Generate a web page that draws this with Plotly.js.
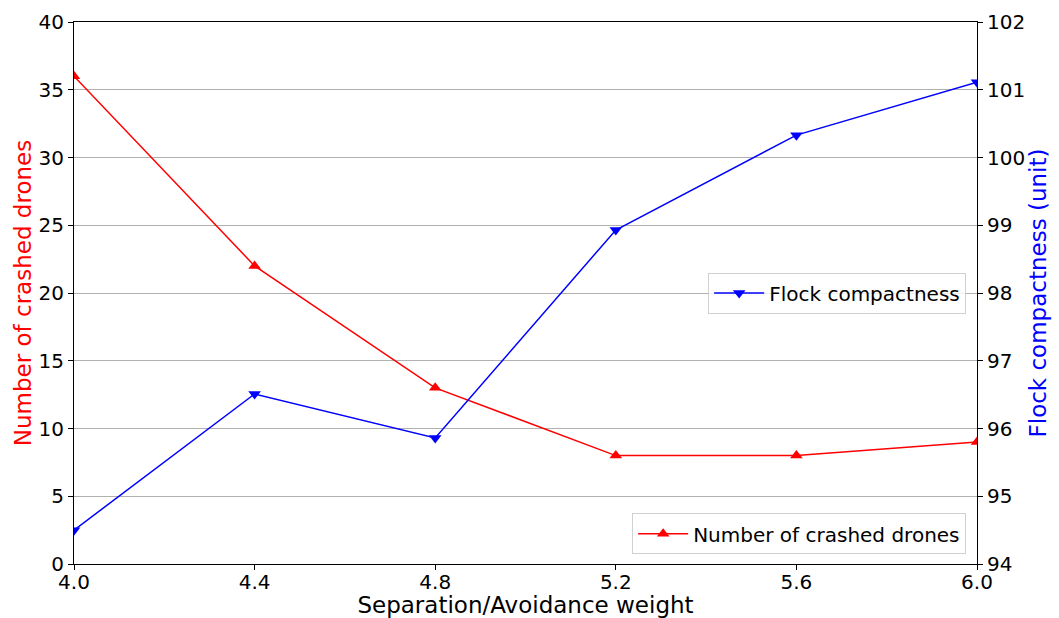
<!DOCTYPE html>
<html>
<head>
<meta charset="utf-8">
<script src="https://cdn.plot.ly/plotly-3.0.1.min.js"></script>
<style>html,body{margin:0;padding:0;background:#fff;}#chart{width:1059px;height:618px;}</style>
</head>
<body>
<div id="chart"></div>
<script>
const weights = [4.0, 4.4, 4.8, 5.2, 5.6, 6.0];
const crashedDrones = [36, 22, 13, 8, 8, 9];
const flockCompactness = [94.5, 96.51, 95.86, 98.93, 100.33, 101.11];
const xTickVals = [4.0, 4.4, 4.8, 5.2, 5.6, 6.0];
const xTickText = ['4.0', '4.4', '4.8', '5.2', '5.6', '6.0'];

const font = 'DejaVu Sans, sans-serif';

const traces = [
  {
    x: weights, y: crashedDrones, name: 'Number of crashed drones',
    type: 'scatter', mode: 'lines+markers',
    line: {color: '#ff0000', width: 1.5},
    marker: {symbol: 'triangle-up', size: 11, color: '#ff0000'},
    yaxis: 'y', legend: 'legend2'
  },
  {
    x: weights, y: flockCompactness, name: 'Flock compactness',
    type: 'scatter', mode: 'lines+markers',
    line: {color: '#0000ff', width: 1.5},
    marker: {symbol: 'triangle-down', size: 11, color: '#0000ff'},
    yaxis: 'y2', legend: 'legend'
  }
];

const layout = {
  width: 1059, height: 618,
  margin: {l: 74, r: 82, t: 22, b: 54},
  paper_bgcolor: '#fff', plot_bgcolor: '#fff',
  font: {family: font, size: 20, color: '#000'},
  showlegend: true,
  xaxis: {
    range: [4.0, 6.0], tickvals: xTickVals, ticktext: xTickText,
    showgrid: false, zeroline: false,
    showline: true, linecolor: '#000', linewidth: 1, mirror: true,
    ticks: 'outside', ticklen: 5, tickcolor: '#000',
    ticklabelstandoff: -5,
    tickfont: {family: font, size: 20},
    title: {text: 'Separation/Avoidance weight', font: {family: font, size: 23}, standoff: 2}
  },
  yaxis: {
    range: [0, 40], dtick: 5,
    showgrid: true, gridcolor: '#b0b0b0', gridwidth: 1, zeroline: false,
    showline: true, linecolor: '#000', linewidth: 1,
    ticks: 'outside', ticklen: 5, tickcolor: '#000',
    tickfont: {family: font, size: 20},
    title: {text: 'Number of crashed drones', font: {family: font, size: 23, color: '#ff0000'}, standoff: 0}
  },
  yaxis2: {
    range: [94, 102], dtick: 1, overlaying: 'y', side: 'right',
    showgrid: false, zeroline: false,
    showline: true, linecolor: '#000', linewidth: 1,
    ticks: 'outside', ticklen: 5, tickcolor: '#000',
    tickfont: {family: font, size: 20},
    title: {text: 'Flock compactness (unit)', font: {family: font, size: 23, color: '#0000ff'}, standoff: 2}
  },
  legend: {
    x: 0.988, y: 0.5, xanchor: 'right', yanchor: 'middle',
    bgcolor: 'rgba(255,255,255,0.8)', bordercolor: '#d0d0d0', borderwidth: 1,
    itemwidth: 50,
    font: {family: font, size: 20}
  },
  legend2: {
    x: 0.988, y: 0.018, xanchor: 'right', yanchor: 'bottom',
    bgcolor: 'rgba(255,255,255,0.8)', bordercolor: '#d0d0d0', borderwidth: 1,
    itemwidth: 50,
    font: {family: font, size: 20}
  }
};

Plotly.newPlot('chart', traces, layout, {displayModeBar: false, staticPlot: true});
</script>
</body>
</html>
